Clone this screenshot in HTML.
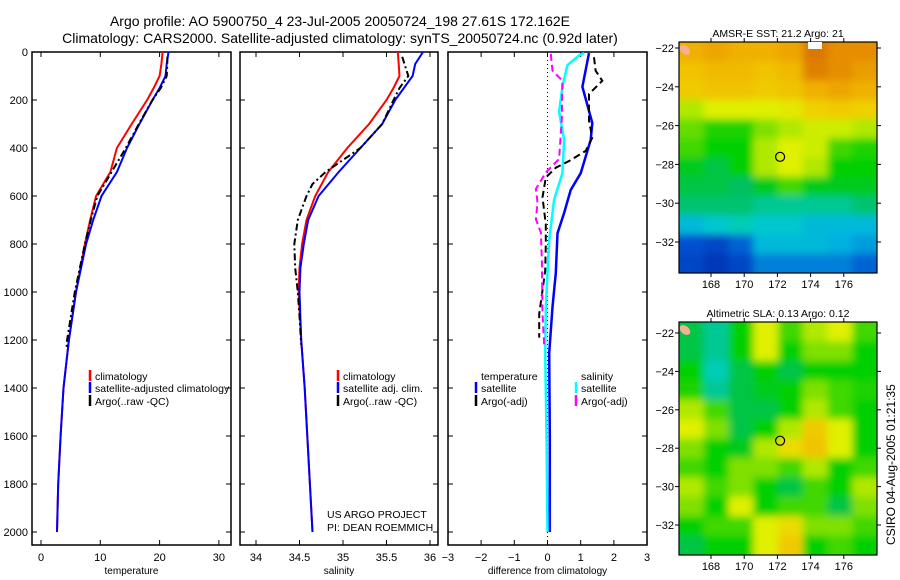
<!DOCTYPE html>
<html><head><meta charset="utf-8"><style>
html,body{margin:0;padding:0;background:#fff;}
svg{display:block;font-family:"Liberation Sans",sans-serif;}
</style></head><body>
<svg id="c" width="900" height="580" viewBox="0 0 900 580">
<defs>
<clipPath id="cp1"><rect x="32" y="52" width="199" height="493"/></clipPath>
<clipPath id="cp2"><rect x="240" y="52" width="198" height="493"/></clipPath>
<clipPath id="cp3"><rect x="448" y="52" width="199" height="493"/></clipPath>
<clipPath id="cm1"><rect x="679" y="42" width="198" height="231"/></clipPath>
<clipPath id="cm2"><rect x="679" y="322" width="198" height="233"/></clipPath>
<filter id="bl" x="-10%" y="-10%" width="120%" height="120%"><feGaussianBlur stdDeviation="4"/></filter>
</defs>
<text x="340" y="26" font-size="14" text-anchor="middle">Argo profile: AO 5900750_4 23-Jul-2005 20050724_198 27.61S 172.162E</text>
<text x="340" y="43" font-size="14" text-anchor="middle">Climatology: CARS2000. Satellite-adjusted climatology: synTS_20050724.nc (0.92d later)</text>
<g id="g"></g>
<text x="0" y="0" font-size="12" transform="translate(895,545) rotate(-90)">CSIRO 04-Aug-2005 01:21:35</text>
</svg>
<script>
// ---- data ----
const tempDepth=[0,50,100,150,200,300,400,500,600,700,800,1000,1200,1400,1600,1800,2000];
const tempClim=[20.5,20.3,20,19,17.9,15.3,12.8,11.7,9.3,8.3,7.4,5.9,4.7,3.8,3.3,2.9,2.7];
const tempSat=[21.5,21.2,21,20,18.8,16.6,14.5,12.8,10.2,8.8,7.6,5.9,4.7,3.8,3.3,2.9,2.7];
const argoTDepth=[20,50,100,150,200,300,400,500,600,700,800,1000,1200,1240];
const argoTemp=[21.3,21.3,21.2,20.2,18.8,16.5,14.3,11.9,9.5,8.4,7.4,5.7,4.4,4.3];
const salDepth=[0,50,100,150,200,300,400,500,600,700,800,900,1000,1200,1400,1600,1800,2000];
const salClim=[35.63,35.64,35.65,35.58,35.5,35.3,35.05,34.83,34.68,34.58,34.53,34.5,34.49,34.52,34.56,34.59,34.62,34.65];
const salSat=[35.92,35.83,35.8,35.7,35.6,35.45,35.2,34.95,34.72,34.6,34.55,34.51,34.5,34.52,34.56,34.59,34.62,34.65];
const argoSDepth=[20,100,150,200,300,400,500,550,600,700,800,900,1000,1100,1220];
const argoSal=[35.68,35.75,35.65,35.58,35.45,35.2,34.8,34.65,34.58,34.48,34.44,34.45,34.48,34.5,34.52];
const dTSatDepth=[4,145,296,366,505,575,671,755,921,1062,1255,1600,2000];
const dTSat=[1.25,1.05,1.35,1.3,1.0,0.7,0.5,0.3,0.25,0.15,0.05,0.07,0.07];
const dSSatDepth=[4,14,55,145,250,366,505,616,783,1062,1255,1600,2000];
const dSSat=[1.1,0.95,0.6,0.45,0.35,0.5,0.45,0.2,0.05,-0.05,-0.07,-0.03,0];
const dSArgoDepth=[8,78,120,280,446,502,571,627,697,753,879,1088,1227];
const dSArgo=[0.1,0.15,0.45,0.43,0.35,-0.05,-0.35,-0.3,-0.35,-0.2,-0.17,-0.15,-0.1];
const dTArgoDepth=[22,78,120,175,287,357,412,454,482,523,606,718,801,912,1092,1190];
const dTArgo=[1.4,1.45,1.65,1.25,1.25,1.35,1.15,0.65,0.25,-0.05,-0.15,-0.05,-0.05,-0.07,-0.25,-0.25];
const depthTicks=[0,200,400,600,800,1000,1200,1400,1600,1800,2000];
const tempTicks=[0,10,20,30];
const salTicks=[34,34.5,35,35.5,36];
const diffTicks=[-3,-2,-1,0,1,2,3];
const sstGrid=[
[.78,.8,.78,.78,.8,.9,.85,.85],[.72,.75,.75,.72,.75,.88,.85,.82],[.7,.72,.72,.7,.72,.78,.8,.78],
[.55,.6,.6,.6,.62,.68,.7,.68],[.48,.42,.42,.5,.55,.58,.58,.55],[.45,.4,.4,.55,.6,.58,.45,.42],
[.38,.35,.4,.55,.6,.55,.4,.4],[.35,.35,.33,.38,.45,.38,.38,.38],[.32,.32,.32,.3,.3,.3,.3,.32],
[.22,.25,.28,.25,.25,.22,.22,.22],[.1,.08,.12,.22,.22,.22,.2,.18],[.08,.05,.08,.15,.15,.15,.15,.12]];
const slaGrid=[
[.35,.3,.4,.6,.45,.55,.6,.45],[.35,.3,.4,.6,.4,.5,.5,.4],[.4,.28,.35,.4,.35,.4,.4,.4],
[.42,.3,.35,.38,.4,.5,.45,.42],[.55,.45,.35,.35,.4,.55,.45,.4],[.6,.5,.35,.4,.55,.7,.6,.4],
[.5,.4,.38,.55,.65,.72,.6,.4],[.45,.4,.5,.5,.45,.55,.4,.45],[.55,.45,.5,.4,.35,.45,.4,.55],
[.5,.4,.6,.4,.45,.45,.35,.5],[.4,.45,.45,.6,.65,.5,.5,.45],[.35,.4,.4,.6,.7,.4,.45,.4]];
const latTicks=[-22,-24,-26,-28,-30,-32];
const lonTicks=[168,170,172,174,176];
const argoLon=172.162, argoLat=-27.61;

// ---- helpers ----
const NS="http://www.w3.org/2000/svg";const G=document.getElementById('g');
function mk(t,a,p){const e=document.createElementNS(NS,t);for(const k in a)e.setAttribute(k,a[k]);(p||G).appendChild(e);return e;}
const yD=d=>52+d*0.24;
const xT=v=>41+v*5.93, xS=v=>256+(v-34)*87, xDf=v=>547.5+v*33.2;
function line(xs,ds,fx,col,w,dash,clip,name){
  const pts=xs.map((v,i)=>fx(v).toFixed(1)+','+yD(ds[i]).toFixed(1)).join(' ');
  const e=mk('polyline',{points:pts,fill:'none',stroke:col,'stroke-width':w,'clip-path':'url(#'+clip+')'});
  if(dash)e.setAttribute('stroke-dasharray',dash);
  
  
}
function panel(x0,w,ticks,fx,label,clip,name,showY){
  const r=mk('rect',{x:x0,y:52,width:w,height:493,fill:'none',stroke:'#000','stroke-width':1.5});
  
  
  depthTicks.forEach(d=>{const y=yD(d);mk('line',{x1:x0,y1:y,x2:x0+5,y2:y,stroke:'#000'});mk('line',{x1:x0+w-5,y1:y,x2:x0+w,y2:y,stroke:'#000'});
    if(showY){const t=mk('text',{x:x0-4,y:y+4,'font-size':11,'text-anchor':'end'});t.textContent=d;
      
      }});
  ticks.forEach(v=>{const x=fx(v);mk('line',{x1:x,y1:52,x2:x,y2:57,stroke:'#000'});mk('line',{x1:x,y1:540,x2:x,y2:545,stroke:'#000'});
    const t=mk('text',{x:x,y:561,'font-size':11,'text-anchor':'middle'});t.textContent=String(v).replace('-','\u2212');
    
    });
  const t=mk('text',{x:x0+w/2,y:574,'font-size':10,'text-anchor':'middle'});t.textContent=label;
  
  
}
function legend(x,y,col,txt,name){
  mk('line',{x1:x,y1:y-10,x2:x,y2:y+1,stroke:col,'stroke-width':2.5});
  const t=mk('text',{x:x+5,y:y,'font-size':10.5});t.textContent=txt;
  
  
}
panel(32,199,tempTicks,xT,'temperature','cp1','temperature-panel',true);
panel(240,198,salTicks,xS,'salinity','cp2','salinity-panel',false);
panel(448,199,diffTicks,xDf,'difference from climatology','cp3','difference-panel',false);
mk('line',{x1:xDf(0),y1:52,x2:xDf(0),y2:545,stroke:'#000','stroke-dasharray':'1,3'});

line(tempClim,tempDepth,xT,'#f00',2,null,'cp1','temp-climatology-line');
line(tempSat,tempDepth,xT,'#00f',2,null,'cp1','temp-satellite-line');
line(argoTemp,argoTDepth,xT,'#000',2,'7,3,2,3','cp1','temp-argo-line');
line(salClim,salDepth,xS,'#f00',2,null,'cp2','sal-climatology-line');
line(salSat,salDepth,xS,'#00f',2,null,'cp2','sal-satellite-line');
line(argoSal,argoSDepth,xS,'#000',2,'7,3,2,3','cp2','sal-argo-line');
line(dTSat,dTSatDepth,xDf,'#00f',2.5,null,'cp3','diff-temp-satellite-line');
line(dSSat,dSSatDepth,xDf,'#0ff',2.5,null,'cp3','diff-sal-satellite-line');
line(dTArgo,dTArgoDepth,xDf,'#000',2,'7,4','cp3','diff-temp-argo-line');
line(dSArgo,dSArgoDepth,xDf,'#f0f',2,'7,4','cp3','diff-sal-argo-line');

legend(90,380,'#f00','climatology','legend-climatology');
legend(90,392,'#00f','satellite-adjusted climatology','legend-satellite');
legend(90,405,'#000','Argo(..raw -QC)','legend-argo');
legend(338,380,'#f00','climatology','legend2-climatology');
legend(338,392,'#00f','satellite adj. clim.','legend2-satellite');
legend(338,405,'#000','Argo(..raw -QC)','legend2-argo');
{const t=mk('text',{x:481,y:380,'font-size':10.5});t.textContent='temperature';


const s=mk('text',{x:581,y:380,'font-size':10.5});s.textContent='salinity';

}
legend(476,392,'#00f','satellite','legend3-temp-satellite');
legend(476,405,'#000','Argo(-adj)','legend3-temp-argo');
legend(576,392,'#0ff','satellite','legend3-sal-satellite');
legend(576,405,'#f0f','Argo(-adj)','legend3-sal-argo');
{const a=mk('text',{x:327,y:518,'font-size':10.5});a.textContent='US ARGO PROJECT';


const b=mk('text',{x:327,y:531,'font-size':10.5});b.textContent='PI: DEAN ROEMMICH';

}

// ---- maps ----
const stops=[[0,[0,32,160]],[.1,[0,80,208]],[.2,[0,176,224]],[.27,[0,208,200]],[.33,[0,192,96]],[.4,[0,208,0]],[.5,[128,224,0]],[.6,[224,240,0]],[.68,[240,208,0]],[.78,[240,176,0]],[.88,[224,128,0]],[1,[192,80,0]]];
function cmap(v){for(let i=1;i<stops.length;i++){if(v<=stops[i][0]){const a=stops[i-1],b=stops[i],f=(v-a[0])/(b[0]-a[0]);return 'rgb('+a[1].map((c,j)=>Math.round(c+(b[1][j]-c)*f)).join(',')+')';}}return 'rgb(192,80,0)';}
function map(grid,y0,h,lat22,lat32,clip,title,name){
  const x0=679,w=198;
  const lonX=l=>711+(l-168)*16.6;
  const latY=l=>lat22+(l+22)/(-10)*(lat32-lat22);
  const gg=mk('g',{'clip-path':'url(#'+clip+')'});
  
  
  const inner=mk('g',{filter:'url(#bl)'},gg);
  const rows=grid.length,cols=grid[0].length,cw=w/cols,ch=h/rows;
  grid.forEach((row,r)=>row.forEach((v,c)=>{mk('rect',{x:x0+c*cw-(c==0?15:0),y:y0+r*ch-(r==0?15:0),width:cw+1+(c==0||c==cols-1?15:0),height:ch+1+(r==0||r==rows-1?15:0),fill:cmap(v)},inner);}));
  mk('ellipse',{cx:x0+6,cy:y0+8,rx:6,ry:4,fill:'#f4b090',transform:'rotate(40 '+(x0+6)+' '+(y0+8)+')'},gg);
  const f=mk('rect',{x:x0,y:y0,width:w,height:h,fill:'none',stroke:'#000','stroke-width':1.2});
  
  
  const ci=mk('circle',{cx:lonX(argoLon),cy:latY(argoLat),r:4.5,fill:'none',stroke:'#000','stroke-width':1.2});
  
  
  latTicks.forEach(l=>{const y=latY(l);mk('line',{x1:x0-4,y1:y,x2:x0,y2:y,stroke:'#000'});mk('line',{x1:x0+w,y1:y,x2:x0+w+4,y2:y,stroke:'#000'});
    const t=mk('text',{x:x0-5,y:y+4,'font-size':11,'text-anchor':'end'});t.textContent='\u2212'+(-l);
    
    });
  lonTicks.forEach(l=>{const x=lonX(l);mk('line',{x1:x,y1:y0+h,x2:x,y2:y0+h+4,stroke:'#000'});mk('line',{x1:x,y1:y0-4,x2:x,y2:y0,stroke:'#000'});
    const t=mk('text',{x:x,y:y0+h+15,'font-size':11,'text-anchor':'middle'});t.textContent=l;
    
    });
  const t=mk('text',{x:x0+w/2,y:y0-5,'font-size':10.5,'text-anchor':'middle'});t.textContent=title;
  
  
}
map(sstGrid,42,231,48,242,'cm1','AMSR-E SST: 21.2 Argo: 21','sst-map');
map(slaGrid,322,233,333,525,'cm2','Altimetric SLA: 0.13 Argo: 0.12','sla-map');
// white patch top of SST map
mk('rect',{x:808,y:42,width:14,height:7,fill:'#fff'});
</script>
</body></html>
